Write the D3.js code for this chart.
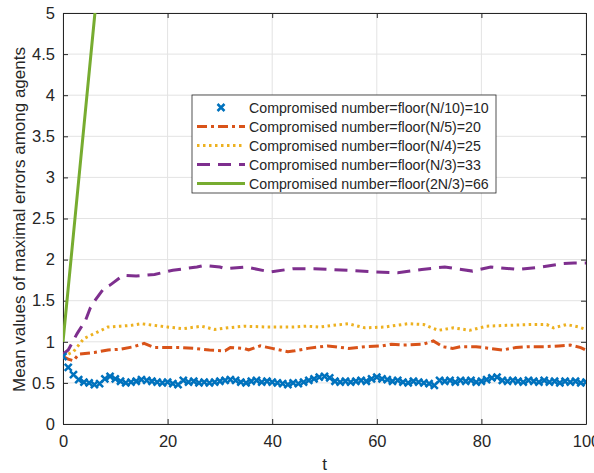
<!DOCTYPE html>
<html>
<head>
<meta charset="utf-8">
<script src="https://cdn.jsdelivr.net/npm/d3@7"></script>
<style>
  body { margin: 0; background: #fff; }
  text { font-family: "Liberation Sans", Arial, sans-serif; fill: #262626; }
</style>
</head>
<body>
<svg width="594" height="473"></svg>
<script>
// t = 0..100, one marker per step
var blueV = [0.82,0.69,0.6,0.54,0.51,0.5,0.48,0.49,0.55,0.58,0.55,0.52,0.5,0.51,0.52,0.54,0.53,0.52,0.51,0.5,
  0.51,0.49,0.48,0.53,0.51,0.52,0.5,0.51,0.5,0.51,0.52,0.53,0.54,0.53,0.51,0.5,0.52,0.53,0.51,0.52,
  0.51,0.5,0.49,0.48,0.5,0.49,0.51,0.53,0.55,0.57,0.58,0.56,0.52,0.51,0.52,0.51,0.52,0.53,0.52,0.55,
  0.57,0.55,0.54,0.52,0.53,0.51,0.5,0.52,0.51,0.5,0.49,0.47,0.53,0.52,0.53,0.51,0.53,0.52,0.53,0.51,
  0.52,0.54,0.56,0.57,0.53,0.52,0.53,0.52,0.51,0.53,0.52,0.51,0.53,0.51,0.52,0.5,0.52,0.51,0.52,0.5,0.51];

var orangeT = [0,1,2,3,6,8.6,11,13.5,15.5,17.5,20,22.5,25,28,31,32,34.6,35.5,37.7,40,43,44.3,46.8,50.6,52,54.6,57.8,61,62.8,65,68.8,70.8,72.6,74.5,76,79,81.6,84,86.6,89,92,94.8,97,99,100];
var orangeV = [0.82,0.79,0.77,0.85,0.87,0.9,0.91,0.94,0.98,0.93,0.93,0.93,0.92,0.9,0.89,0.93,0.92,0.9,0.95,0.92,0.88,0.89,0.92,0.95,0.94,0.92,0.94,0.95,0.97,0.96,0.97,1.01,0.94,0.92,0.94,0.94,0.92,0.9,0.93,0.94,0.94,0.95,0.96,0.93,0.9];

var yellowT = [0,2,4,6,8.6,11,13,15,17.5,20,23,26.5,29,31.5,34.6,39,44,46.6,49,51.6,54.5,57.7,61.5,66,69,70.5,71.8,74.6,77.8,81,84.8,89.3,92.5,93.8,96.3,98.6,100];
var yellowV = [0.82,0.88,1.04,1.1,1.18,1.19,1.2,1.22,1.2,1.18,1.16,1.19,1.15,1.17,1.19,1.18,1.18,1.19,1.18,1.2,1.22,1.17,1.18,1.22,1.21,1.17,1.14,1.17,1.14,1.19,1.2,1.21,1.21,1.17,1.21,1.18,1.15];

var purpleT = [0,1,2.7,4.3,5.2,6.2,7.8,9,11.5,14,17.5,21,25.6,27,30,31,35,39.6,44,48,54.4,59.5,64,68.6,73,78.3,81.8,87,91.6,95.5,97.7,100];
var purpleV = [0.85,0.9,1.1,1.26,1.41,1.51,1.65,1.69,1.81,1.8,1.82,1.87,1.91,1.93,1.91,1.89,1.91,1.85,1.89,1.89,1.87,1.85,1.84,1.88,1.91,1.86,1.91,1.88,1.91,1.95,1.96,1.96];

var greenT = [0,2,4,6,8];
var greenV = [1,2.31,3.62,4.93,6.24];

var legendLabels = [
  "Compromised number=floor(N/10)=10",
  "Compromised number=floor(N/5)=20",
  "Compromised number=floor(N/4)=25",
  "Compromised number=floor(N/3)=33",
  "Compromised number=floor(2N/3)=66"
];
var xTicks = [0, 20, 40, 60, 80, 100];
var yTicks = [0, 0.5, 1, 1.5, 2, 2.5, 3, 3.5, 4, 4.5, 5];

var svg = d3.select("svg"),
    margin = {top: 13, right: 8, bottom: 49, left: 63},
    width = 594 - margin.left - margin.right,
    height = 473 - margin.top - margin.bottom;

var x = d3.scaleLinear().domain([0, 100]).range([0, width]);
var y = d3.scaleLinear().domain([0, 5]).range([height, 0]);

var g = svg.append("g")
    .attr("transform", "translate(" + margin.left + "," + margin.top + ")");

svg.append("defs").append("clipPath")
    .attr("id", "clip")
  .append("rect")
    .attr("width", width)
    .attr("height", height);

// grid
g.selectAll(".gx").data(xTicks).enter().append("line")
    .attr("x1", d => x(d)).attr("x2", d => x(d))
    .attr("y1", 0).attr("y2", height)
    .attr("stroke", "#e3e3e3").attr("stroke-width", 1);
g.selectAll(".gy").data(yTicks).enter().append("line")
    .attr("x1", 0).attr("x2", width)
    .attr("y1", d => y(d)).attr("y2", d => y(d))
    .attr("stroke", "#e3e3e3").attr("stroke-width", 1);

// axes (ticks inward)
var xAxis = d3.axisBottom(x).tickValues(xTicks).tickSizeInner(-5).tickSizeOuter(0).tickPadding(11);
var yAxis = d3.axisLeft(y).tickValues(yTicks).tickSizeInner(-5).tickSizeOuter(0).tickPadding(8)
    .tickFormat(d3.format("~g"));

var gx = g.append("g").attr("transform", "translate(0," + height + ")").call(xAxis);
var gy = g.append("g").call(yAxis);
g.append("g").call(d3.axisTop(x).tickValues(xTicks).tickSizeInner(-5).tickSizeOuter(0).tickFormat(""));
g.append("g").attr("transform", "translate(" + width + ",0)")
    .call(d3.axisRight(y).tickValues(yTicks).tickSizeInner(-5).tickSizeOuter(0).tickFormat(""));

g.selectAll(".domain").attr("stroke", "#262626");
g.selectAll(".tick line").attr("stroke", "#262626");
g.selectAll(".tick text").style("font-size", "16.5px")
    .style("font-family", "'Liberation Sans', Arial, sans-serif").attr("fill", "#262626");

// axis labels
svg.append("text")
    .attr("x", margin.left + width / 2).attr("y", 470)
    .attr("text-anchor", "middle").style("font-size", "17px").text("t");
svg.append("text")
    .attr("transform", "translate(25," + (margin.top + height / 2 + 1) + ") rotate(-90)")
    .attr("text-anchor", "middle").style("font-size", "17px")
    .text("Mean values of maximal errors among agents");

// series
var plot = g.append("g").attr("clip-path", "url(#clip)");

function pts(ts, vs) { return ts.map(function(t, i) { return [t, vs[i]]; }); }
var line = d3.line().x(d => x(d[0])).y(d => y(d[1]));

var series = [
  {data: pts(greenT, greenV), color: "#77AC30", dash: null, w: 3},
  {data: pts(purpleT, purpleV), color: "#7E2F8E", dash: "13,8", w: 3},
  {data: pts(yellowT, yellowV), color: "#EDB120", dash: "2.5,3.5", w: 3},
  {data: pts(orangeT, orangeV), color: "#D95319", dash: "10,4,3,4", w: 3}
];
series.forEach(function(s) {
  plot.append("path")
      .datum(s.data)
      .attr("fill", "none")
      .attr("stroke", s.color)
      .attr("stroke-width", s.w)
      .attr("stroke-dasharray", s.dash)
      .attr("d", line);
});

var cross = "M-3.5,-3.5L3.5,3.5M-3.5,3.5L3.5,-3.5";
plot.selectAll(".mk").data(blueV).enter().append("path")
    .attr("transform", (d, i) => "translate(" + x(i) + "," + y(d) + ")")
    .attr("d", cross)
    .attr("stroke", "#0072BD")
    .attr("stroke-width", 2.5)
    .attr("fill", "none");

// legend
var lg = svg.append("g").attr("transform", "translate(192,95)");
lg.append("rect").attr("width", 304).attr("height", 98)
    .attr("fill", "#fff").attr("stroke", "#262626").attr("stroke-width", 0.8);

var legendStyles = [
  {color: "#0072BD", dash: null, marker: true},
  {color: "#D95319", dash: "10,4,3,4"},
  {color: "#EDB120", dash: "2.5,3.5"},
  {color: "#7E2F8E", dash: "13,8"},
  {color: "#77AC30", dash: null}
];
legendLabels.forEach(function(lab, i) {
  var cy = 12.5 + i * 19;
  var st = legendStyles[i];
  if (st.marker) {
    lg.append("path").attr("transform", "translate(29," + cy + ")")
        .attr("d", cross).attr("stroke", st.color).attr("stroke-width", 2.5).attr("fill", "none");
  } else {
    lg.append("line").attr("x1", 5).attr("x2", 53).attr("y1", cy).attr("y2", cy)
        .attr("stroke", st.color).attr("stroke-width", 3).attr("stroke-dasharray", st.dash);
  }
  lg.append("text").attr("x", 57).attr("y", cy + 5)
      .style("font-size", "14.2px").text(lab);
});
</script>
</body>
</html>
